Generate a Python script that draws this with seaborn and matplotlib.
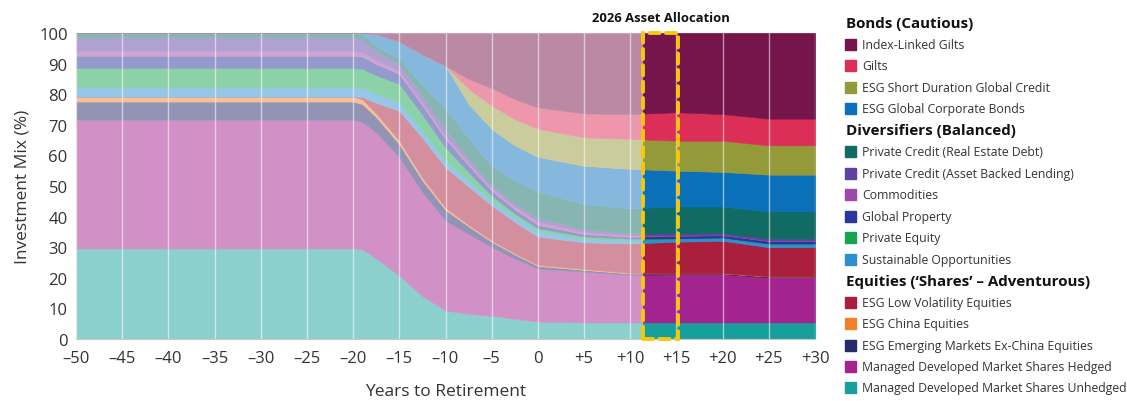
import matplotlib
matplotlib.use("Agg")
import matplotlib.pyplot as plt
from matplotlib.patches import Rectangle
from matplotlib.ticker import FixedLocator, FixedFormatter
import matplotlib.colors as mcolors
import seaborn as sns
import numpy as np

sns.set_style("white")
plt.rcParams['font.family'] = ['Open Sans', 'DejaVu Sans']

# Years to retirement (x positions of the glide path)
years = [-50, -20, -19, -17.5, -15, -12.5, -10, -7.5, -5, -2.5, 0, 5, 10, 15, 20, 25, 30]

# Allocation (%) per fund, stacked from bottom to top
unhedged = [29.6, 29.6, 29.3, 26.3, 20.7, 14.0, 9.3, 8.2, 7.6, 6.6, 5.7, 5.4, 5.4, 5.4, 5.4, 5.4, 5.4]
hedged = [42.1, 42.1, 41.7, 41.2, 38.7, 34.0, 29.4, 26.1, 22.4, 19.7, 17.3, 16.6, 15.6, 15.8, 15.8, 14.8, 14.8]
em_ex_china = [5.9, 5.9, 5.8, 5.0, 4.3, 3.8, 3.5, 2.5, 1.8, 1.3, 0.9, 0.6, 0.4, 0.2, 0.2, 0.2, 0.2]
china = [1.6, 1.6, 1.5, 1.2, 1.1, 0.9, 0.7, 0.5, 0.4, 0.35, 0.3, 0.3, 0.2, 0.1, 0.1, 0.1, 0.1]
low_vol = [0, 0, 0.8, 3.5, 9.8, 13.0, 13.2, 12.5, 11.4, 10.3, 9.3, 8.7, 9.6, 10.3, 10.6, 9.5, 9.5]
sustainable = [3.0, 3.0, 3.0, 2.9, 2.7, 2.4, 2.2, 1.9, 1.6, 1.6, 1.7, 1.1, 1.0, 1.0, 1.0, 1.1, 1.1]
private_equity = [6.3, 6.3, 6.2, 6.1, 6.0, 5.2, 4.3, 2.8, 1.6, 1.2, 1.0, 0.8, 0.6, 0.1, 0.1, 0.1, 0.1]
global_property = [4.1, 4.1, 4.0, 3.7, 3.3, 3.0, 2.8, 2.2, 1.7, 1.3, 1.1, 0.8, 0.6, 0.8, 0.7, 0.8, 0.8]
commodities = [1.6, 1.6, 1.5, 1.3, 1.1, 1.0, 1.0, 0.9, 0.8, 0.9, 1.1, 0.7, 0.5, 0.2, 0.2, 0.2, 0.2]
pc_abl = [4.4, 4.4, 4.2, 3.0, 2.2, 2.2, 2.2, 1.5, 1.0, 1.0, 1.1, 0.9, 0.6, 0.6, 0.5, 0.6, 0.6]
pc_red = [1.4, 1.4, 1.5, 1.5, 1.6, 3.5, 6.6, 6.5, 6.3, 7.5, 8.7, 8.2, 8.2, 8.8, 8.7, 8.9, 8.9]
global_corp = [0, 0, 0.5, 4.0, 5.7, 10.0, 14.1, 11.2, 12.0, 11.5, 11.3, 12.5, 12.9, 11.7, 11.3, 12.0, 12.0]
short_duration = [0, 0, 0, 0, 0, 0, 0, 4.9, 7.7, 8.6, 9.2, 9.3, 9.8, 9.8, 10.2, 9.6, 9.6]
gilts = [0, 0, 0, 0, 0, 0, 0, 3.3, 5.7, 6.5, 7.0, 7.8, 8.1, 9.3, 8.7, 8.7, 8.7]
index_linked = [0, 0, 0, 0.3, 2.8, 7.0, 10.7, 15.0, 18.0, 21.65, 24.3, 26.3, 26.5, 25.9, 26.5, 28.0, 28.0]

series = [unhedged, hedged, em_ex_china, china, low_vol, sustainable, private_equity,
          global_property, commodities, pc_abl, pc_red, global_corp, short_duration,
          gilts, index_linked]
colors = ['#17a09b', '#a3238f', '#26296b', '#f0802a', '#aa1f3e', '#2e8fd0', '#16a450',
          '#27379b', '#a048a8', '#5f42a0', '#0f6b63', '#0a71b9', '#94993a', '#dc2f58', '#75154b']

x_ticks = [-50, -45, -40, -35, -30, -25, -20, -15, -10, -5, 0, 5, 10, 15, 20, 25, 30]
x_tick_labels = ['–50', '–45', '–40', '–35', '–30', '–25', '–20', '–15', '–10', '–5', '0',
                 '+5', '+10', '+15', '+20', '+25', '+30']
y_ticks = [0, 10, 20, 30, 40, 50, 60, 70, 80, 90, 100]

# Legend groups: (header, [(label, colour), ...])
legend_groups = [
    ("Bonds (Cautious)", [("Index-Linked Gilts", '#75154b'), ("Gilts", '#dc2f58'),
                          ("ESG Short Duration Global Credit", '#94993a'),
                          ("ESG Global Corporate Bonds", '#0a71b9')]),
    ("Diversifiers (Balanced)", [("Private Credit (Real Estate Debt)", '#0f6b63'),
                                 ("Private Credit (Asset Backed Lending)", '#5f42a0'),
                                 ("Commodities", '#a048a8'), ("Global Property", '#27379b'),
                                 ("Private Equity", '#16a450'),
                                 ("Sustainable Opportunities", '#2e8fd0')]),
    ("Equities (\u2018Shares\u2019 \u2013 Adventurous)", [("ESG Low Volatility Equities", '#aa1f3e'),
                                                      ("ESG China Equities", '#f0802a'),
                                                      ("ESG Emerging Markets Ex-China Equities", '#26296b'),
                                                      ("Managed Developed Market Shares Hedged", '#a3238f'),
                                                      ("Managed Developed Market Shares Unhedged", '#17a09b')]),
]

HIGHLIGHT_START = 11.4
BOX_END = 15.2
W, H = 1127, 402


def faded(c, amount=0.5):
    rgb = np.array(mcolors.to_rgb(c))
    return tuple(rgb * amount + (1 - amount))


fig = plt.figure(figsize=(W / 100, H / 100), dpi=100)
ax = fig.add_axes([76 / W, 1 - 340 / H, (815 - 76) / W, (340 - 34) / H])

# faded glide path behind, full colour only for the current allocation onwards
faded_cols = [faded(c) for c in colors]
polys = ax.stackplot(years, *series, colors=faded_cols, linewidth=0.4)
for p, c in zip(polys, faded_cols):
    p.set_edgecolor(c)
polys_full = ax.stackplot(years, *series, colors=colors, linewidth=0.4)
clip = Rectangle((HIGHLIGHT_START, 0), 30 - HIGHLIGHT_START, 100, transform=ax.transData)
for p, c in zip(polys_full, colors):
    p.set_edgecolor(c)
    p.set_clip_path(clip)

ax.set_xlim(-50, 30)
ax.set_ylim(0, 100)
ax.xaxis.set_major_locator(FixedLocator(x_ticks))
ax.xaxis.set_major_formatter(FixedFormatter(x_tick_labels))
ax.set_yticks(y_ticks)
ax.tick_params(axis='both', length=0, labelsize=12, colors='#333333')
ax.tick_params(axis='x', pad=8)
ax.tick_params(axis='y', pad=6)
ax.set_axisbelow(False)
ax.grid(axis='x', color='white', alpha=0.55, linewidth=1)
ax.grid(axis='y', visible=False)
for side in ['top', 'right', 'left']:
    ax.spines[side].set_visible(False)
ax.spines['bottom'].set_color('#c8c8c8')
ax.spines['bottom'].set_linewidth(0.8)

ax.set_xlabel("Years to Retirement", fontsize=12.5, color='#333333', labelpad=12)
ax.set_ylabel("Investment Mix (%)", fontsize=12.5, color='#333333', labelpad=6)

# 2026 allocation box
box = Rectangle((HIGHLIGHT_START, 0), BOX_END - HIGHLIGHT_START, 100, fill=False,
                edgecolor='#f8c70d', linewidth=2.8, linestyle=(0, (2.6, 1.6)),
                clip_on=False, zorder=6, capstyle='round')
ax.add_patch(box)
ax.text((HIGHLIGHT_START + BOX_END) / 2, 103, "2026 Asset Allocation", ha='center',
        va='bottom', fontsize=9.4, fontweight='bold', color='#111111')

# legend drawn in pixel space on the right
lax = fig.add_axes([0, 0, 1, 1])
lax.set_xlim(0, W)
lax.set_ylim(H, 0)
lax.axis('off')
row = 0
row_h = 21.47
for header, items in legend_groups:
    y = 24 + row * row_h
    lax.text(846, y, header, fontsize=10.9, fontweight='bold', va='center', color='#111111')
    row += 1
    for label, c in items:
        y = 24 + row * row_h
        lax.add_patch(Rectangle((845, y - 5.5), 11, 11, color=c))
        lax.text(862, y, label, fontsize=8.8, va='center', color='#333333')
        row += 1

fig.savefig("out.png", dpi=100)
